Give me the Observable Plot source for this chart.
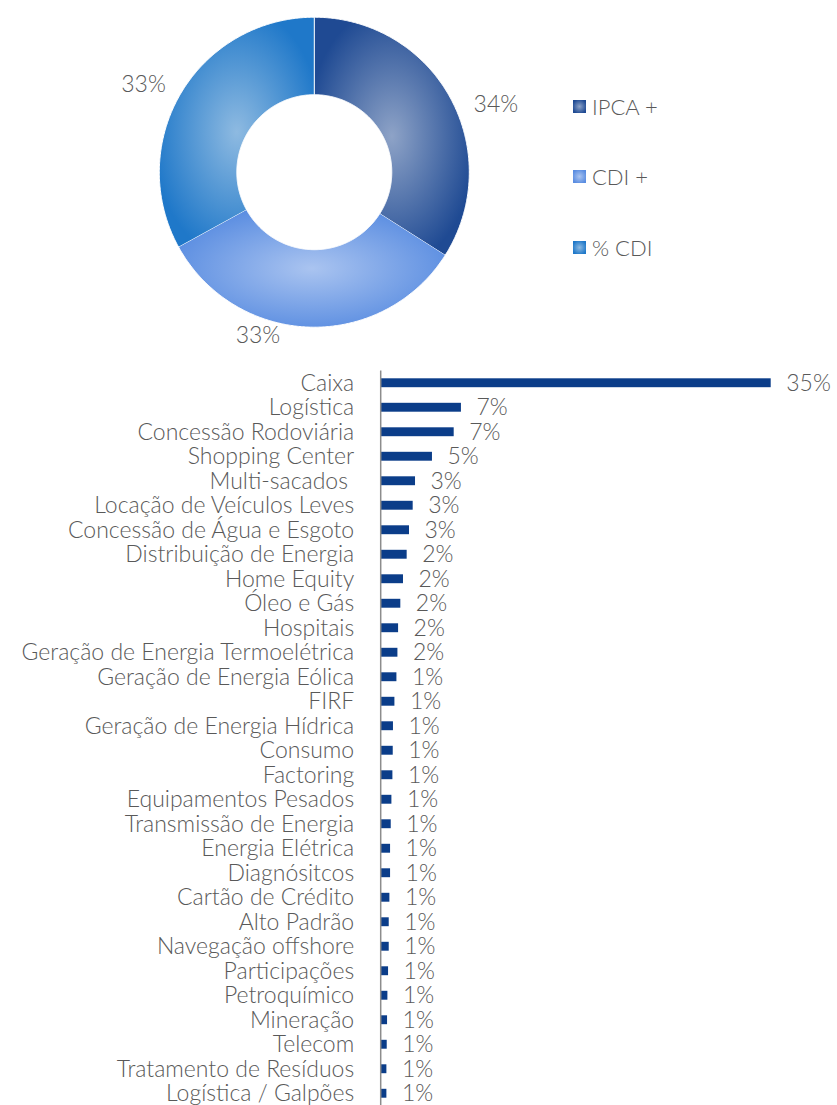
<!DOCTYPE html>
<html>
<head>
<meta charset="utf-8">
<script src="https://cdn.jsdelivr.net/npm/d3@7"></script>
<script src="https://cdn.jsdelivr.net/npm/@observablehq/plot@0.6"></script>
<style>
  html, body { margin: 0; padding: 0; background: #fff; }
  #wrap { position: relative; width: 837px; height: 1105px; overflow: hidden; font-family: Lato, sans-serif; }
  #wrap svg { display: block; }
  .leg { position: absolute; left: 573px; display: flex; align-items: center; height: 26px;
         font-family: Lato, sans-serif; font-weight: 300; font-size: 22px; color: #595959; }
  .leg .sw { width: 13px; height: 13px; margin-right: 6px; }
</style>
</head>
<body>
<div id="wrap"></div>
<script>
// ---------- Data ----------
const sliceLabels = ["IPCA +", "CDI +", "% CDI"];
const sliceValues = [34, 33, 33];
const sliceText = ["34%", "33%", "33%"];

const categories = [
  "Caixa", "Logística", "Concessão Rodoviária", "Shopping Center", "Multi-sacados ",
  "Locação de Veículos Leves", "Concessão de Água e Esgoto", "Distribuição de Energia",
  "Home Equity", "Óleo e Gás", "Hospitais", "Geração de Energia Termoelétrica",
  "Geração de Energia Eólica", "FIRF", "Geração de Energia Hídrica", "Consumo",
  "Factoring", "Equipamentos Pesados", "Transmissão de Energia", "Energia Elétrica",
  "Diagnósitcos", "Cartão de Crédito", "Alto Padrão", "Navegação offshore",
  "Participações", "Petroquímico", "Mineração", "Telecom", "Tratamento de Resíduos",
  "Logística / Galpões"
];
const barValues = [
  35.0, 7.2, 6.55, 4.6, 3.08, 2.87, 2.54, 2.33, 2.0, 1.76, 1.56, 1.5, 1.41, 1.23, 1.1,
  1.08, 1.05, 0.96, 0.9, 0.84, 0.84, 0.78, 0.72, 0.72, 0.66, 0.6, 0.57, 0.54, 0.51, 0.51
];
const barLabels = [
  "35%", "7%", "7%", "5%", "3%", "3%", "3%", "2%", "2%", "2%", "2%", "2%", "1%", "1%", "1%",
  "1%", "1%", "1%", "1%", "1%", "1%", "1%", "1%", "1%", "1%", "1%", "1%", "1%", "1%", "1%"
];

// gradient colours (centre, edge) per slice
const gradCenter = ["#8ea3c7", "#aac4f0", "#8ebae1"];
const gradEdge = ["#1f4a93", "#5a8de1", "#1f78c9"];

const textColor = "#595959";
const barColor = "#0b3d89";
const FONT = "Lato, sans-serif";
const FW = 300;

// ---------- Donut ----------
const total = d3.sum(sliceValues);
let acc = 0;
const slices = sliceValues.map((v, i) => {
  const a0 = acc / total * 2 * Math.PI; acc += v;
  const a1 = acc / total * 2 * Math.PI;
  return {i, label: sliceLabels[i], text: sliceText[i], a0, a1, mid: (a0 + a1) / 2};
});
const R = 1, r0 = 0.5;
function ring(s) {
  const pts = [];
  const n = Math.max(2, Math.ceil((s.a1 - s.a0) / (Math.PI / 360)));
  for (let k = 0; k <= n; k++) {
    const a = s.a0 + (s.a1 - s.a0) * k / n;
    pts.push({x: R * Math.sin(a), y: R * Math.cos(a)});
  }
  for (let k = n; k >= 0; k--) {
    const a = s.a0 + (s.a1 - s.a0) * k / n;
    pts.push({x: r0 * Math.sin(a), y: r0 * Math.cos(a)});
  }
  return pts;
}
const labAt = (s, rr) => ({x: rr * Math.sin(s.mid), y: rr * Math.cos(s.mid), text: s.text});

const pctStyle = {fontSize: 23, fill: textColor, fontFamily: FONT, fontWeight: FW};
const donut = Plot.plot({
  width: 837, height: 355,
  marginLeft: 158.8, marginRight: 837 - 468.8, marginTop: 16.7, marginBottom: 355 - 326.7,
  x: {domain: [-1, 1], axis: null},
  y: {domain: [-1, 1], axis: null},
  marks: [
    ...slices.map(s => Plot.line(ring(s), {x: "x", y: "y", fill: `url(#grad${s.i})`, stroke: "white", strokeWidth: 1})),
    Plot.text([labAt(slices[0], 1.18)], {x: "x", y: "y", text: "text", textAnchor: "start", dx: -1, dy: 21, ...pctStyle}),
    Plot.text([labAt(slices[1], 1.1)], {x: "x", y: "y", text: "text", textAnchor: "middle", dx: -51, dy: -7, ...pctStyle}),
    Plot.text([labAt(slices[2], 1.18)], {x: "x", y: "y", text: "text", textAnchor: "end", dx: 9, dy: 6, ...pctStyle})
  ]
});
// gradient defs
const defs = d3.select(donut).insert("defs", ":first-child");
slices.forEach(s => {
  const g = defs.append("radialGradient").attr("id", `grad${s.i}`)
    .attr("cx", "50%").attr("cy", "50%").attr("r", "55%");
  g.append("stop").attr("offset", "0%").attr("stop-color", gradCenter[s.i]);
  g.append("stop").attr("offset", "100%").attr("stop-color", gradEdge[s.i]);
});

// ---------- Bars ----------
const rows = categories.map((c, i) => ({cat: c, value: barValues[i], label: barLabels[i]}));
const bars = Plot.plot({
  width: 837, height: 751,
  marginTop: 15.5, marginBottom: 0.5, marginLeft: 380.7, marginRight: 837 - 770.7,
  x: {domain: [0, 35], axis: null},
  y: {domain: categories, axis: null, padding: 0, round: false},
  marks: [
    Plot.barX(rows, {x: "value", y: "cat", fill: barColor, insetTop: 7.8, insetBottom: 7.8}),
    Plot.ruleX([0], {stroke: "#8c8c8c", strokeWidth: 1.5, dx: -0.5}),
    Plot.text(rows, {x: 0, y: "cat", text: "cat", textAnchor: "end", dx: -27, fontSize: 23, fill: textColor, fontFamily: FONT, fontWeight: FW}),
    Plot.text(rows, {x: "value", y: "cat", text: "label", textAnchor: "start", dx: 15, ...pctStyle})
  ]
});

const wrap = document.getElementById("wrap");
wrap.appendChild(donut);
wrap.appendChild(bars);

// ---------- Legend ----------
const legTops = [93.5, 163.7, 234];
sliceLabels.forEach((lab, i) => {
  const d = document.createElement("div");
  d.className = "leg";
  d.style.top = legTops[i] + "px";
  const sw = document.createElement("div");
  sw.className = "sw";
  sw.style.background = `radial-gradient(circle, ${gradCenter[i]} 0%, ${gradEdge[i]} 80%)`;
  d.appendChild(sw);
  d.appendChild(document.createTextNode(lab));
  wrap.appendChild(d);
});
</script>
</body>
</html>
